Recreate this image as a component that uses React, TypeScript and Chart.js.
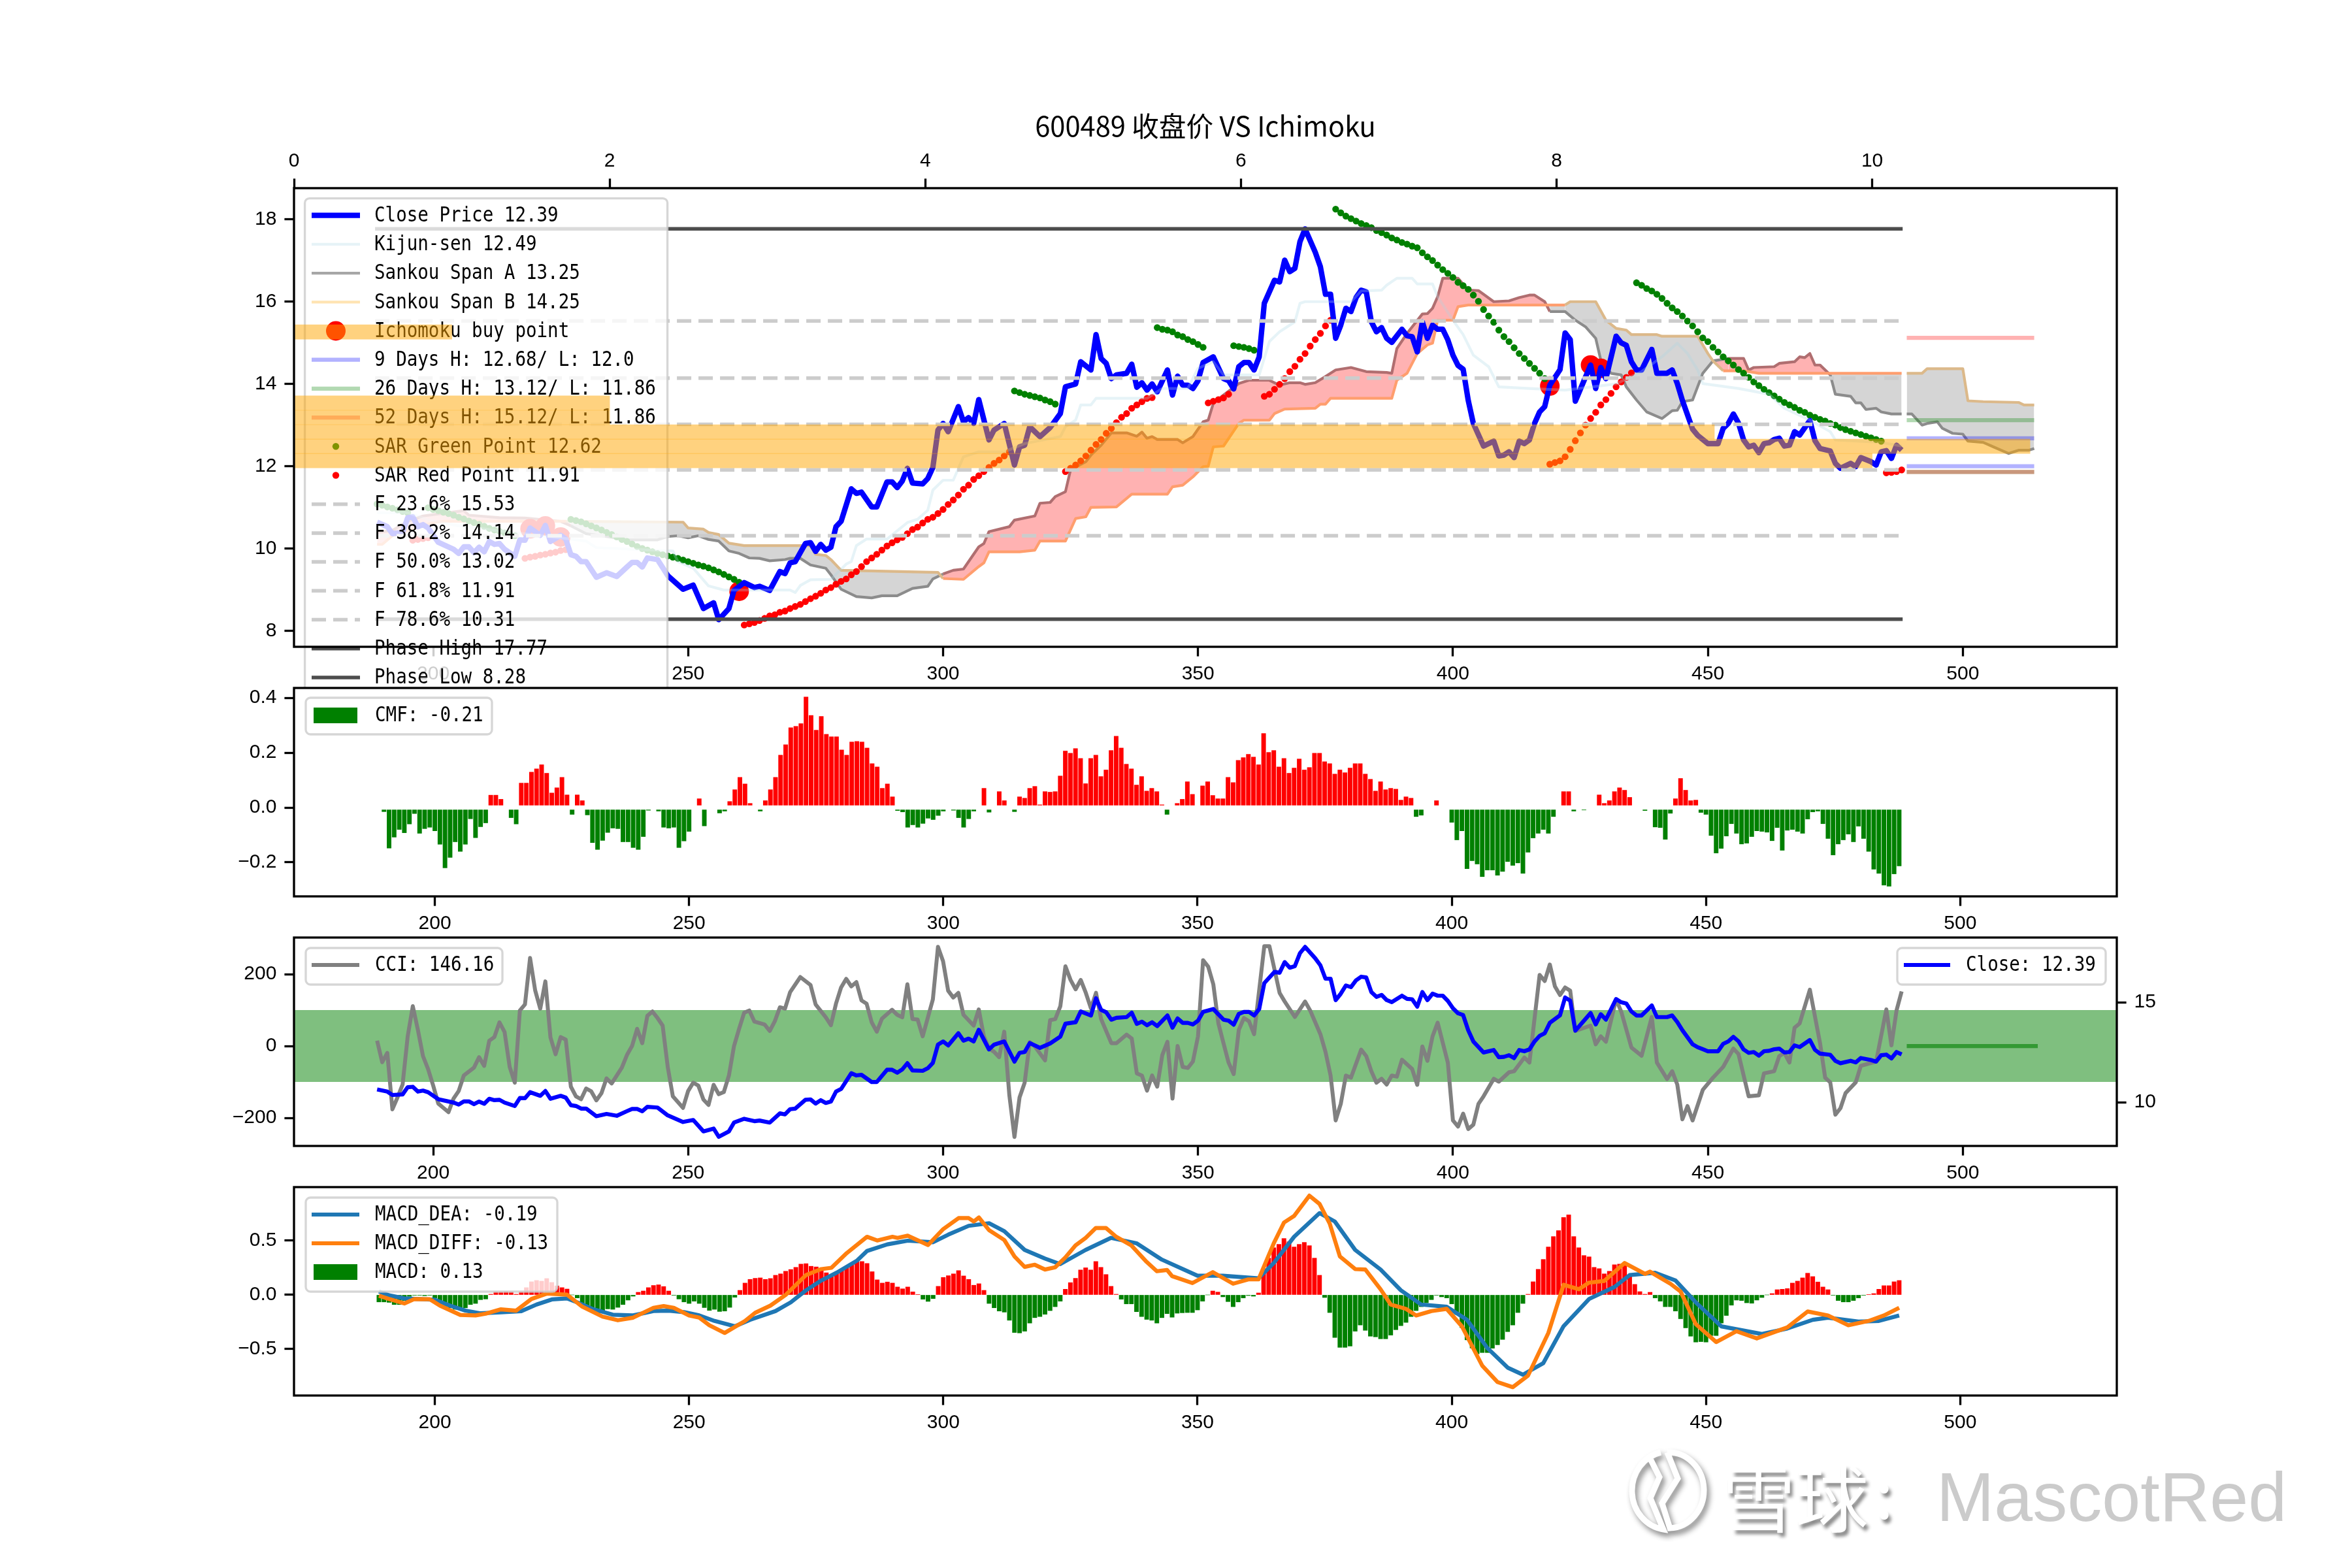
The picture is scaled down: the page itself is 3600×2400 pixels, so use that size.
import { useEffect, useRef } from 'react';
import { Chart, registerables } from 'chart.js';

Chart.register(...registerables);

// ---- values ----
const closeSeries = [[189,10.64],[191,10.53],[192,10.36],[194,10.39],[195,10.75],[196,10.77],[197,10.53],[198,10.58],[199,10.5],[201,10.15],[204,9.98],[205,9.88],[206,10.04],[207,10.04],[208,9.9],[209,10.03],[210,9.92],[211,10.17],[212,10.1],[213,10.12],[214,9.98],[216,9.81],[217,10.21],[218,10.2],[219,10.5],[221,10.32],[222,10.56],[223,10.17],[225,10.32],[226,10.23],[227,9.85],[228,9.81],[229,9.68],[230,9.68],[232,9.3],[234,9.41],[236,9.32],[238,9.55],[239,9.66],[240,9.66],[241,9.55],[242,9.77],[244,9.73],[246,9.34],[249,9.01],[251,9.11],[253,8.54],[255,8.68],[256,8.27],[258,8.54],[259,8.98],[261,9.17],[263,9.05],[264,9.08],[266,8.98],[268,9.44],[269,9.39],[270,9.65],[271,9.68],[273,10.12],[274,10.14],[275,9.93],[276,10.1],[277,9.96],[278,10.03],[279,10.53],[280,10.66],[282,11.45],[283,11.34],[284,11.37],[286,11.01],[287,11.01],[289,11.62],[290,11.62],[291,11.48],[292,11.64],[293,11.95],[294,11.59],[296,11.57],[297,11.7],[298,11.97],[299,12.88],[300,13.04],[301,12.84],[303,13.45],[304,13.08],[305,13.18],[306,13.04],[307,13.62],[309,12.64],[310,12.88],[312,13.04],[314,12.03],[315,12.47],[316,12.51],[317,12.96],[319,12.72],[321,12.94],[323,13.28],[324,13.93],[326,14],[327,14.54],[329,14.34],[330,15.2],[331,14.62],[332,14.5],[333,14.13],[334,14.22],[336,14.26],[337,14.48],[338,13.92],[339,14.03],[340,13.85],[341,14],[342,13.81],[344,14.34],[345,13.73],[346,14.19],[347,13.97],[348,13.97],[349,13.89],[350,14.08],[351,14.52],[353,14.66],[355,14.13],[356,14.08],[357,13.88],[358,14.42],[359,14.52],[360,14.52],[361,14.34],[362,14.66],[363,15.96],[365,16.52],[366,16.48],[367,17.01],[368,16.73],[369,16.81],[370,17.46],[371,17.77],[373,17.2],[374,16.85],[375,16.18],[376,16.18],[377,15.11],[378,15.43],[379,15.84],[380,15.76],[381,16.1],[382,16.28],[383,16.24],[384,15.51],[385,15.27],[386,15.37],[387,15.11],[388,15.01],[390,15.33],[391,15.17],[392,15.15],[393,14.78],[394,15.51],[395,15.11],[396,15.43],[397,15.33],[398,15.33],[399,15.07],[400,14.7],[401,14.45],[402,14.36],[403,13.6],[404,13.04],[406,12.49],[408,12.61],[409,12.25],[410,12.27],[411,12.35],[412,12.21],[413,12.61],[414,12.55],[415,12.64],[416,13.04],[417,13.32],[418,13.45],[419,13.97],[421,14.35],[422,15.24],[423,15.08],[424,13.58],[427,14.46],[428,13.89],[429,14.4],[430,14.13],[432,15.16],[433,15],[434,14.94],[435,14.54],[436,14.34],[437,14.34],[439,14.84],[440,14.26],[442,14.26],[443,14.34],[444,14.01],[445,13.6],[447,12.9],[448,12.75],[449,12.65],[450,12.55],[452,12.55],[453,12.92],[454,13.04],[455,13.27],[456,13.05],[457,12.64],[458,12.47],[459,12.51],[460,12.33],[461,12.55],[462,12.57],[463,12.65],[464,12.68],[465,12.49],[466,12.51],[467,12.84],[468,12.76],[470,13.11],[471,12.62],[472,12.43],[474,12.37],[475,12.07],[476,11.95],[478,12.07],[479,11.99],[480,12.21],[482,12.11],[483,12.03],[484,12.35],[485,12.38],[486,12.19],[487,12.51],[488,12.39]];

const kijunSeries = [[189,10.87],[195,10.87],[199,10.7],[205,10.55],[215,10.4],[227,10.23],[230,10.18],[232,10.02],[247,9.94],[248,9.68],[251,9.52],[254,9.09],[257,8.99],[270,8.99],[271,8.93],[272,9.1],[274,9.24],[278,9.25],[281,9.62],[282,9.68],[283,10.07],[285,10.23],[289,10.23],[293,10.63],[295,10.71],[297,10.93],[298,11.42],[300,11.66],[302,11.66],[304,12.23],[307,12.35],[312,12.35],[316,12.55],[323,12.72],[324,12.96],[326,13.12],[327,13.49],[329,13.49],[330,13.65],[340,13.65],[343,13.89],[348,13.89],[350,14.38],[353,14.54],[355,14.22],[362,14.22],[364,15.03],[366,15.27],[369,15.51],[370,15.96],[371,16],[380,16],[382,16.26],[386,16.28],[387,16.4],[389,16.57],[392,16.57],[393,16.43],[396,16.43],[397,16.12],[400,15.55],[402,15.2],[404,14.7],[407,14.42],[409,13.93],[415,13.89],[422,13.85],[432,14],[437,14.3],[441,14.66],[444,14.99],[446,14.74],[448,14.34],[449,14.01],[456,13.89],[462,13.75],[465,13.41],[470,13.12],[474,12.84],[475,12.64],[484,12.58],[488,12.49]];

const spanASeries = [[189,10.39],[192,10.44],[195,10.66],[198,10.79],[201,10.84],[206,10.92],[207,10.81],[213,10.75],[218,10.74],[225,10.66],[227,10.55],[230,10.36],[234,10.29],[238,10.21],[244,10.21],[246,10.29],[248,10.31],[250,10.26],[252,10.31],[254,10.22],[256,10.18],[258,9.94],[260,9.88],[262,9.77],[264,9.76],[266,9.7],[269,9.73],[270,9.76],[272,9.76],[274,9.6],[277,9.52],[278,9.36],[280,9.01],[283,8.83],[286,8.8],[288,8.85],[291,8.85],[294,9.03],[297,9.08],[298,9.26],[300,9.38],[302,9.47],[304,9.5],[307,10.04],[308,10.12],[309,10.41],[313,10.53],[314,10.69],[318,10.79],[319,11.1],[321,11.12],[322,11.26],[324,11.38],[325,11.91],[328,12.11],[329,12.27],[331,12.51],[333,12.81],[336,12.81],[338,12.73],[339,12.83],[340,12.68],[341,12.72],[342,12.65],[346,12.65],[347,12.57],[349,12.72],[351,13.08],[352,13.12],[353,13.53],[355,13.73],[358,14.01],[360,14.09],[364,14.09],[366,13.97],[368,14.03],[370,14.03],[371,13.99],[373,14.03],[375,14.18],[377,14.34],[380,14.4],[383,14.3],[387,14.28],[388,14.26],[389,14.86],[391,15.23],[394,15.7],[395,15.71],[396,15.84],[397,16.12],[398,16.57],[401,16.57],[403,16.28],[405,16.27],[408,16],[411,16.02],[413,16.1],[415,16.16],[416,16.16],[418,16],[419,15.76],[422,15.76],[424,15.55],[426,15.39],[428,15.11],[429,14.58],[431,14.26],[433,14.22],[434,13.93],[436,13.61],[438,13.32],[441,13.16],[443,13.35],[444,13.36],[445,13.57],[447,13.61],[449,14.26],[451,14.56],[454,14.62],[457,14.62],[458,14.34],[459,14.4],[463,14.42],[464,14.5],[467,14.54],[468,14.66],[469,14.64],[470,14.74],[471,14.46],[472,14.46],[474,14.22],[475,13.75],[478,13.7],[479,13.54],[480,13.54],[481,13.38],[483,13.41],[484,13.32],[486,13.27],[488,13.27],[488.5,null],[489,13.27],[490,13.27],[492,13],[493,13.04],[495,13.08],[496,12.92],[498,12.8],[500,12.78],[501,12.61],[504,12.58],[506,12.47],[509,12.31],[511,12.39],[513,12.39],[514,12.43]];

const spanBSeries = [[189,10.1],[190,10.1],[192,10.31],[200,10.63],[202,10.66],[226,10.66],[249,10.64],[250,10.5],[253,10.47],[254,10.39],[256,10.34],[258,10.13],[261,10.07],[274,10.07],[275,9.86],[277,9.83],[278,9.73],[280,9.47],[299,9.42],[300,9.27],[304,9.25],[307,9.56],[308,9.65],[309,9.92],[315,9.92],[318,9.96],[319,10.18],[324,10.18],[326,10.73],[328,10.77],[329,11],[334,11.01],[337,11.32],[344,11.32],[345,11.5],[347,11.54],[349,11.74],[351,11.99],[352,12],[353,12.47],[355,12.49],[358,13.04],[359,13.12],[364,13.12],[365,13.28],[367,13.39],[373,13.41],[374,13.51],[375,13.51],[376,13.65],[388,13.65],[389,14.09],[391,14.26],[393,14.74],[395,14.95],[396,14.99],[397,15.55],[400,15.55],[401,15.88],[403,15.92],[422,15.92],[423,16],[428,16],[430,15.55],[432,15.35],[434,15.31],[435,15.2],[440,15.2],[441,15.16],[448,15.16],[450,14.74],[451,14.56],[453,14.32],[457,14.32],[460,14.26],[473,14.26],[488,14.26],[488.5,null],[489,14.26],[492,14.26],[493,14.37],[500,14.37],[501,13.59],[504,13.57],[511,13.55],[512,13.49],[514,13.49]];

const cloudRedRanges = [[189,226],[300,418.4],[451.3,473.4]];

const buyPoints = [[219,10.48],[222,10.55],[225,10.28],[260,8.96],[419,13.95],[427,14.46],[429,14.38]];

// SAR dots, one value per day from each run's first day
const sarRedRuns = [
  [196,[10.2,10.22,10.24,10.26]],
  [218,[9.76,9.79,9.81,9.84,9.86,9.89,9.91,9.95,9.97]],
  [261,[8.14,8.17,8.2,8.25,8.3,8.36,8.39,8.45,8.48,8.54,8.59,8.64,8.71,8.78,8.84,8.91,8.99,9.05,9.13,9.2,9.26,9.36,9.44,9.56,9.68,9.77,9.86,9.96,10.06,10.14,10.21,10.27,10.36,10.46,10.52,10.62,10.71,10.76,10.85,10.95,11.07,11.18,11.3,11.44,11.54,11.68,11.77,11.87,11.97,12.07,12.15,12.25,12.35]],
  [324,[11.87,11.95,12.03,12.13,12.25,12.39,12.53,12.65,12.8,12.92,13.06,13.19,13.28,13.41,13.49,13.57,13.65,13.67]],
  [352,[13.54,13.58,13.62,13.66,13.75]],
  [363,[13.7,13.75,13.87,13.99,14.13,14.3,14.43,14.6,14.74,14.92,15.08,15.23,15.41,15.55]],
  [419,[12.05,12.09,12.13,12.23,12.41,12.62,12.81,13,13.16,13.31,13.49,13.62,13.77,13.93,14.05,14.16,14.27]],
  [485,[11.84,11.85,11.87,11.91]],
];
const sarGreenRuns = [
  [189,[11.08,11.05,11.01,10.98,10.94,10.9,10.87]],
  [199,[10.99,10.95,10.92,10.88,10.85,10.81,10.76,10.72,10.67,10.63,10.59,10.54,10.49,10.45,10.42,10.38,10.35,10.31]],
  [227,[10.71,10.68,10.65,10.6,10.55,10.5,10.45,10.39,10.34,10.28,10.22,10.17,10.11,10.05,10,9.96,9.92,9.88,9.85,9.82,9.79,9.76,9.72,9.68,9.64,9.6,9.57,9.53,9.48,9.43,9.37,9.31,9.25,9.18]],
  [314,[13.83,13.79,13.75,13.72,13.69,13.66,13.61,13.57,13.51]],
  [342,[15.37,15.33,15.31,15.27,15.19,15.15,15.08,15.03,14.96,14.89]],
  [357,[14.93,14.91,14.89,14.86,14.82]],
  [377,[18.25,18.16,18.08,18.02,17.96,17.9,17.85,17.8,17.73,17.68,17.62,17.55,17.5,17.44,17.4,17.35,17.31,17.19,17.09,17,16.89,16.78,16.69,16.59,16.47,16.39,16.3,16.16,16.01,15.81,15.65,15.5,15.31,15.15,15.03,14.88,14.74,14.62,14.5,14.38,14.26,14.13]],
  [436,[16.46,16.4,16.32,16.26,16.18,16.08,15.96,15.85,15.76,15.65,15.53,15.41,15.27,15.12,15.03,14.89,14.78,14.66,14.56,14.46,14.35,14.26,14.16,14.05,13.96,13.87,13.79,13.71,13.63,13.55,13.49,13.43,13.36,13.31,13.24,13.19,13.14,13.1,13.04,13,12.94,12.89,12.85,12.81,12.77,12.73,12.69,12.65,12.61]],
];

const fibLevels = [15.53, 14.14, 13.02, 11.91, 10.31];
const phaseLevels = [17.77, 8.28];
const nineDayLevels = [12.68, 12.0];
const twentySixDayLevels = [13.12, 11.86];
const fiftyTwoDayLevels = [15.12, 11.86];

// horizontal histogram on the top axis
const profilePrices = [15.265, 13.535, 13.185, 12.835, 12.485, 12.135];
const profileCounts = [1, 2, 2, 9, 11, 10];

const cmfStart = 190;
const cmfValues = [
  -.015,-.148,-.108,-.08,-.092,-.06,-.022,-.094,-.077,-.072,
  -.085,-.134,-.22,-.182,-.125,-.16,-.134,-.041,-.11,-.07,
  -.056,.045,.045,.03,0,-.037,-.06,.089,.089,.129,
  .141,.156,.125,.053,.072,.11,.046,-.025,.046,.025,
  -.027,-.128,-.153,-.12,-.091,-.075,-.077,-.125,-.125,-.146,
  -.153,-.106,-.01,0,-.013,-.072,-.075,-.072,-.146,-.122,
  -.087,0,.032,-.067,0,0,-.02,-.013,.022,.065,
  .11,.086,.015,-.004,-.013,.025,.065,.11,.191,.229,
  .291,.296,.306,.403,.336,.282,.332,.267,.258,.258,
  .21,.191,.239,.241,.239,.217,.16,.148,.07,.086,
  .039,-.011,-.016,-.072,-.063,-.072,-.058,-.039,-.044,-.029,
  -.013,0,-.01,-.037,-.072,-.041,-.013,0,.07,-.017,
  0,.058,.025,0,-.015,.039,.034,.07,.077,.01,
  .058,.056,.058,.115,.206,.198,.215,.179,.087,.179,
  .191,.113,.137,.208,.26,.217,.158,.141,.082,.113,
  .06,.07,.058,.01,-.025,0,.015,.03,.094,.048,
  0,.079,.094,.044,.032,.032,.11,.091,.172,.182,
  .194,.184,.156,.27,.201,.208,.148,.179,.125,.144,
  .177,.137,.146,.198,.198,.167,.16,.122,.137,.127,
  .144,.16,.16,.122,.103,.06,.094,.065,.07,.067,
  .027,.039,.034,-.033,-.028,0,0,.025,0,0,
  -.054,-.118,-.085,-.223,-.194,-.206,-.252,-.228,-.228,-.247,
  -.233,-.197,-.211,-.202,-.24,-.163,-.111,-.094,-.08,-.094,
  -.033,0,.058,.058,-.013,0,-.009,0,0,.046,
  .015,.025,.058,.072,.063,.037,0,0,-.011,0,
  -.071,-.073,-.116,-.021,.032,.106,.063,.025,.027,-.018,
  -.025,-.102,-.166,-.149,-.104,-.059,-.094,-.133,-.13,-.106,
  -.085,-.087,-.09,-.121,-.073,-.156,-.083,-.08,-.087,-.094,
  -.042,-.016,-.013,-.059,-.113,-.173,-.133,-.118,-.097,-.125,
  -.068,-.113,-.16,-.225,-.24,-.283,-.287,-.242,-.213,
];

const cciSeries = [[189,15],[190,-45],[191,-19],[192,-176],[193,-143],[194,-107],[195,27],[196,111],[197,45],[198,-28],[199,-64],[200,-110],[201,-160],[202,-172],[203,-184],[204,-146],[205,-125],[206,-82],[208,-60],[209,-31],[210,-55],[211,15],[212,25],[213,66],[214,39],[215,-58],[216,-102],[217,99],[218,116],[219,245],[220,155],[221,104],[222,180],[223,24],[224,-23],[225,25],[226,18],[227,-113],[228,-140],[229,-148],[230,-118],[231,-126],[232,-151],[233,-131],[234,-90],[235,-104],[237,-60],[238,-25],[239,0],[240,48],[241,8],[242,84],[243,96],[244,78],[245,57],[246,-58],[247,-140],[249,-172],[250,-125],[251,-102],[252,-110],[253,-149],[254,-164],[255,-108],[256,-134],[257,-128],[258,-82],[259,0],[260,48],[261,93],[262,99],[263,68],[265,60],[266,42],[267,69],[268,108],[269,104],[270,150],[272,192],[274,170],[275,116],[277,80],[278,58],[279,118],[280,163],[281,187],[282,166],[283,178],[284,127],[285,118],[286,66],[287,40],[288,76],[290,101],[291,87],[292,80],[293,172],[294,75],[295,74],[296,27],[298,130],[299,276],[300,236],[301,154],[302,135],[303,148],[304,87],[306,57],[307,102],[308,27],[309,-7],[310,-16],[311,-31],[312,40],[313,-137],[314,-253],[315,-143],[316,-102],[317,11],[318,-1],[320,-40],[321,72],[322,75],[323,111],[324,222],[325,184],[326,158],[327,184],[328,148],[329,105],[330,148],[331,75],[333,8],[334,8],[336,32],[337,21],[338,-76],[339,-82],[340,-124],[341,-82],[342,-113],[343,-25],[344,12],[345,-146],[346,0],[347,-58],[348,-61],[349,-43],[350,27],[351,239],[352,221],[353,172],[354,63],[355,8],[356,-46],[357,-78],[358,45],[359,78],[360,69],[361,33],[363,278],[364,278],[366,148],[367,124],[369,81],[371,124],[372,99],[374,33],[375,-16],[376,-82],[377,-207],[378,-161],[379,-82],[380,-88],[382,-10],[383,-28],[384,-70],[385,-102],[386,-91],[387,-107],[388,-82],[389,-85],[390,-38],[392,-64],[393,-108],[394,-1],[395,-41],[396,27],[397,65],[399,-46],[400,-207],[401,-224],[402,-188],[403,-231],[404,-219],[405,-161],[406,-140],[408,-91],[409,-99],[411,-73],[412,-70],[414,-32],[415,-46],[417,198],[418,181],[419,227],[420,166],[421,142],[422,163],[423,154],[424,42],[427,57],[428,5],[429,27],[430,12],[432,130],[433,96],[435,-4],[437,-27],[439,81],[440,-46],[442,-92],[443,-70],[444,-107],[445,-204],[446,-167],[447,-207],[449,-122],[451,-88],[453,-58],[455,-7],[456,-22],[458,-140],[460,-137],[461,-76],[463,-70],[464,-28],[465,-19],[466,-46],[467,51],[468,63],[470,157],[472,8],[473,-88],[474,-101],[475,-191],[476,-173],[477,-131],[479,-101],[480,-55],[483,-43],[485,102],[486,2],[487,99],[488,152]];
const cciBand = [100, -100];
const cciFutureZero = [[489,0],[514.7,0]];

const macdStart = 189;
const macdValues = [
  -.065,-.065,-.069,-.089,-.089,-.052,-.014,-.004,-.004,-.008,-.004,
  -.028,-.058,-.105,-.119,-.133,-.133,-.119,-.089,-.079,-.044,
  -.038,.006,.026,.026,.028,.026,.006,.026,.067,.121,
  .133,.127,.151,.115,.083,.067,.054,0,-.028,-.099,
  -.129,-.143,-.179,-.153,-.129,-.133,-.115,-.089,-.048,-.012,
  .024,.036,.067,.087,.093,.077,.036,-.004,-.038,-.065,
  -.079,-.058,-.079,-.117,-.143,-.133,-.153,-.149,-.115,-.022,
  .042,.109,.143,.153,.157,.143,.151,.181,.194,.218,
  .234,.254,.284,.288,.264,.258,.234,.204,.183,.204,
  .234,.254,.284,.308,.308,.29,.214,.139,.109,.119,
  .109,.073,.056,.073,.028,.002,-.04,-.06,-.034,.079,
  .161,.177,.194,.224,.175,.143,.089,.103,.042,-.079,
  -.119,-.149,-.159,-.234,-.347,-.351,-.335,-.26,-.21,-.2,
  -.179,-.145,-.109,-.058,.052,.113,.153,.23,.25,.23,
  .308,.254,.188,.079,.006,-.04,-.083,-.083,-.155,-.2,
  -.226,-.234,-.26,-.21,-.173,-.206,-.169,-.165,-.163,-.163,
  -.139,-.058,0,.036,.026,-.018,-.062,-.109,-.065,-.028,
  -.006,-.012,.018,.24,.339,.435,.466,.52,.49,.442,
  .466,.484,.454,.339,.181,-.024,-.163,-.393,-.484,-.484,
  -.472,-.335,-.278,-.327,-.381,-.387,-.405,-.405,-.371,-.321,
  -.284,-.254,-.2,-.145,-.109,-.073,-.044,-.002,-.018,-.028,
  -.083,-.181,-.302,-.415,-.49,-.544,-.532,-.532,-.492,-.46,
  -.411,-.339,-.278,-.163,-.079,.006,.121,.236,.327,.442,
  .538,.593,.714,.738,.538,.435,.363,.351,.254,.242,
  .194,.218,.278,.284,.274,.173,.097,.03,.006,.024,
  -.028,-.058,-.109,-.109,-.149,-.22,-.304,-.381,-.435,-.431,
  -.435,-.375,-.375,-.26,-.19,-.095,-.048,-.052,-.073,-.077,
  -.048,-.024,0,.012,.048,.052,.058,.109,.127,.157,
  .2,.169,.119,.073,.048,-.004,-.052,-.065,-.065,-.052,
  -.028,-.004,.004,.012,.052,.085,.085,.121,.133,
];

const deaSeries = [[189,.032],[191,-.004],[194,-.032],[197,-.038],[200,-.044],[203,-.099],[206,-.145],[209,-.17],[213,-.16],[217,-.15],[220,-.089],[223,-.042],[226,-.032],[228,-.069],[231,-.129],[235,-.183],[239,-.189],[243,-.149],[246,-.145],[249,-.159],[252,-.189],[255,-.24],[259,-.29],[262,-.23],[267,-.149],[270,-.069],[273,.042],[276,.133],[279,.204],[283,.315],[285,.405],[289,.466],[293,.5],[298,.486],[301,.556],[305,.637],[309,.661],[312,.587],[316,.415],[320,.335],[323,.284],[328,.415],[333,.526],[338,.476],[343,.325],[350,.177],[355,.177],[362,.153],[365,.294],[369,.536],[374,.754],[377,.677],[381,.415],[386,.234],[390,.042],[394,-.089],[399,-.109],[403,-.23],[407,-.49],[411,-.671],[414,-.736],[418,-.63],[422,-.288],[427,-.038],[432,.073],[435,.183],[440,.204],[444,.133],[448,-.069],[453,-.29],[461,-.361],[466,-.31],[471,-.23],[474,-.21],[480,-.246],[484,-.24],[488,-.19]];
const diffSeries = [[189,-.008],[191,-.038],[194,-.079],[196,-.038],[199,-.04],[201,-.099],[205,-.185],[208,-.189],[210,-.173],[213,-.133],[216,-.145],[219,-.038],[222,.012],[226,.002],[229,-.109],[233,-.2],[236,-.234],[239,-.21],[243,-.119],[245,-.103],[247,-.119],[250,-.19],[252,-.21],[254,-.28],[257,-.351],[261,-.24],[263,-.165],[266,-.099],[269,0],[273,.183],[276,.238],[278,.25],[281,.385],[285,.536],[287,.502],[290,.536],[291,.526],[293,.546],[297,.46],[300,.607],[303,.708],[305,.708],[306,.677],[307,.714],[309,.597],[312,.506],[314,.355],[316,.258],[318,.278],[320,.234],[322,.254],[324,.345],[326,.456],[328,.526],[330,.617],[332,.617],[334,.536],[337,.456],[340,.304],[342,.218],[344,.23],[345,.173],[349,.109],[353,.21],[357,.103],[360,.143],[362,.143],[365,.476],[367,.667],[369,.728],[372,.915],[374,.839],[376,.657],[378,.355],[381,.238],[383,.234],[386,.052],[388,-.089],[391,-.129],[393,-.19],[396,-.149],[399,-.129],[402,-.29],[406,-.653],[409,-.804],[412,-.851],[415,-.744],[419,-.351],[422,.093],[425,.052],[427,.113],[430,.129],[434,.294],[438,.194],[439,.214],[443,.103],[445,.032],[448,-.27],[452,-.435],[456,-.335],[460,-.401],[466,-.3],[470,-.153],[474,-.19],[478,-.28],[482,-.24],[485,-.19],[488,-.119]];

const topTicks = [0, 2, 4, 6, 8, 10];
const bottomTicks = [200, 250, 300, 350, 400, 450, 500];
const priceTicks = [8, 10, 12, 14, 16, 18];
const cmfTicks = [-0.2, 0, 0.2, 0.4];
const cciTicks = [-200, 0, 200];
const closeTicks = [10, 15];
const macdTicks = [-0.5, 0, 0.5];

const chartTitle = '600489 收盘价 VS Ichimoku';

const priceLegend = [
  { label: 'Close Price 12.39', kind: 'line', color: 'blue', width: 8.3 },
  { label: 'Kijun-sen 12.49', kind: 'line', color: 'rgba(173,216,230,0.3)', width: 4.2 },
  { label: 'Sankou Span A 13.25', kind: 'line', color: 'rgba(128,128,128,0.7)', width: 4.2 },
  { label: 'Sankou Span B 14.25', kind: 'line', color: 'rgba(255,165,0,0.3)', width: 4.2 },
  { label: 'Ichomoku buy point', kind: 'dot', color: 'red', radius: 15 },
  { label: '9 Days H: 12.68/ L: 12.0', kind: 'line', color: 'rgba(0,0,255,0.3)', width: 6.2 },
  { label: '26 Days H: 13.12/ L: 11.86', kind: 'line', color: 'rgba(0,128,0,0.3)', width: 6.2 },
  { label: '52 Days H: 15.12/ L: 11.86', kind: 'line', color: 'rgba(255,0,0,0.3)', width: 6.2 },
  { label: 'SAR Green Point 12.62', kind: 'dot', color: 'green', radius: 5.2 },
  { label: 'SAR Red Point 11.91', kind: 'dot', color: 'red', radius: 5.2 },
  { label: 'F 23.6% 15.53', kind: 'dash', color: '#cccccc', width: 5.5 },
  { label: 'F 38.2% 14.14', kind: 'dash', color: '#cccccc', width: 5.5 },
  { label: 'F 50.0% 13.02', kind: 'dash', color: '#cccccc', width: 5.5 },
  { label: 'F 61.8% 11.91', kind: 'dash', color: '#cccccc', width: 5.5 },
  { label: 'F 78.6% 10.31', kind: 'dash', color: '#cccccc', width: 5.5 },
  { label: 'Phase High 17.77', kind: 'line', color: '#4d4d4d', width: 5.5 },
  { label: 'Phase Low 8.28', kind: 'line', color: '#4d4d4d', width: 5.5 },
];

// ---- helpers ----
const pts = (pairs: (number | null)[][]) => pairs.map(([x, y]) => ({ x, y }));
const runs = (list: any[]) => list.flatMap(([start, vals]) => vals.map((y: number, i: number) => ({ x: start + i, y })));
const span = (x0: number, x1: number, v: number) => [{ x: x0, y: v }, { x: x1, y: v }];
const inRedCloud = (x: number) => cloudRedRanges.some(([a, b]) => x >= a && x < b);

const FONT_TICK = { family: "'Liberation Sans', Arial, sans-serif", size: 30 };

function line(data: any[], color: string, width: number, extra: any = {}) {
  return { type: 'line', data, borderColor: color, borderWidth: width, pointRadius: 0, tension: 0, fill: false, borderJoinStyle: 'round', ...extra };
}

function dots(data: any[], color: string, radius: number) {
  return { type: 'line', data, showLine: false, pointRadius: radius, pointBackgroundColor: color, pointBorderWidth: 0, borderColor: color };
}

function signedBars(start: number, values: number[]) {
  return {
    type: 'bar',
    data: values.map((y, i) => ({ x: start + i, y })),
    backgroundColor: values.map((v) => (v > 0 ? 'red' : 'green')),
    barThickness: 6.3,
    borderWidth: 0,
  };
}

function axis(position: string, min: number, max: number, ticks: number[], size: number, decimals = 0) {
  const horizontal = position === 'top' || position === 'bottom';
  return {
    type: 'linear',
    position,
    min,
    max,
    offset: false,
    afterBuildTicks: (s: any) => { s.ticks = ticks.map((value) => ({ value })); },
    afterFit: (s: any) => {
      if (horizontal) s.height = size; else s.width = size;
      // keep the plot box exactly where the figure has it
      s.paddingTop = 0;
      s.paddingBottom = 0;
      s.paddingLeft = 0;
      s.paddingRight = 0;
    },
    grid: { display: true, offset: false, drawOnChartArea: false, drawTicks: true, tickLength: 14.6, tickWidth: 3.3, tickColor: '#000' },
    border: { display: false },
    ticks: {
      font: FONT_TICK,
      color: '#000',
      padding: horizontal ? 9 : 12,
      autoSkip: false,
      maxRotation: 0,
      callback: (v: number) => v.toFixed(decimals).replace('-', '\u2212'),
    },
  };
}

function drawLegendBox(ctx: any, box: any) {
  ctx.save();
  ctx.beginPath();
  ctx.roundRect(box.x, box.y, box.w, box.h, 7);
  ctx.fillStyle = 'rgba(255,255,255,0.8)';
  ctx.fill();
  ctx.lineWidth = 3.3;
  ctx.strokeStyle = 'rgba(204,204,204,0.8)';
  ctx.stroke();
  box.rows.forEach((row: any, i: number) => {
    const y = box.firstY + i * box.step;
    const x0 = box.handleX;
    const x1 = box.handleX + box.handleW;
    if (row.kind === 'dot') {
      ctx.beginPath();
      ctx.arc((x0 + x1) / 2, y, row.radius, 0, Math.PI * 2);
      ctx.fillStyle = row.color;
      ctx.fill();
    } else if (row.kind === 'patch') {
      ctx.fillStyle = row.color;
      ctx.fillRect(x0 + 3, y - 12, box.handleW - 6, 24);
    } else {
      ctx.beginPath();
      ctx.setLineDash(row.kind === 'dash' ? [22, 11] : []);
      ctx.moveTo(x0, y);
      ctx.lineTo(x1, y);
      ctx.lineWidth = row.width;
      ctx.strokeStyle = row.color;
      ctx.stroke();
      ctx.setLineDash([]);
    }
    // narrow, fixed pitch look of the original legend font
    ctx.save();
    ctx.translate(box.textX, y);
    ctx.scale(0.86, 1);
    ctx.font = "32px 'DejaVu Sans Mono', monospace";
    ctx.fillStyle = '#000';
    ctx.textBaseline = 'middle';
    ctx.textAlign = 'left';
    ctx.fillText(row.label, 0, 1);
    ctx.restore();
  });
  ctx.restore();
}

const panelPlugin = {
  id: 'panel',
  beforeDraw(chart: any) {
    const { ctx, chartArea: a } = chart;
    ctx.save();
    ctx.fillStyle = '#fff';
    ctx.fillRect(a.left, a.top, a.right - a.left, a.bottom - a.top);
    ctx.restore();
  },
  beforeDatasetDraw(chart: any, args: any) {
    const p = chart.config.options.panel;
    if (p.legendAt === args.index) p.legends.forEach((b: any) => drawLegendBox(chart.ctx, { ...b, y: b.y - p.top, firstY: b.firstY - p.top }));
  },
  afterDatasetsDraw(chart: any) {
    const { ctx, chartArea: a } = chart;
    const p = chart.config.options.panel;
    if (p.legendAt === undefined) p.legends.forEach((b: any) => drawLegendBox(ctx, { ...b, y: b.y - p.top, firstY: b.firstY - p.top }));
    ctx.save();
    ctx.lineWidth = 3.33;
    ctx.strokeStyle = '#000';
    ctx.strokeRect(a.left, a.top, a.right - a.left, a.bottom - a.top);
    if (p.title) {
      ctx.font = "41.67px 'Noto Sans CJK SC', sans-serif";
      ctx.fillStyle = '#000';
      ctx.textAlign = 'center';
      ctx.textBaseline = 'middle';
      ctx.fillText(p.title, (a.left + a.right) / 2, 193);
    }
    ctx.restore();
  },
};

function makeChart(canvas: HTMLCanvasElement, cfg: any) {
  const n = cfg.datasets.length;
  return new Chart(canvas, {
    type: 'line',
    data: { datasets: cfg.datasets.map((d: any, i: number) => ({ order: n - i, ...d })) },
    options: {
      responsive: false,
      animation: false,
      devicePixelRatio: 1,
      events: [],
      layout: { padding: { top: cfg.padTop, right: cfg.padRight, left: 0, bottom: 0 } },
      plugins: { legend: { display: false }, tooltip: { enabled: false }, title: { display: false } },
      scales: cfg.scales,
      panel: { legends: cfg.legends, legendAt: cfg.legendAt, top: cfg.top, title: cfg.title },
    } as any,
    plugins: [panelPlugin],
  } as any);
}

const CANVASES = [
  { top: 0, height: 1080 },
  { top: 1043, height: 391 },
  { top: 1425, height: 391 },
  { top: 1807, height: 391 },
];

function priceChart(canvas: HTMLCanvasElement) {
  const datasets: any[] = [
    line(pts(spanASeries), '#8c8c8c', 4.2, {
      fill: { target: '+1', above: 'rgba(255,0,0,0.3)', below: 'rgba(128,128,128,0.33)' },
      segment: { borderColor: (c: any) => (inRedCloud(c.p0.parsed.x) ? '#b06e70' : '#8c8c8c') },
    }),
    line(pts(spanBSeries), '#dcb98a', 4.2, {
      segment: { borderColor: (c: any) => (inRedCloud(c.p0.parsed.x) ? '#ff9e6e' : '#dcb98a') },
    }),
    dots(pts(buyPoints), 'red', 15),
    dots(runs(sarGreenRuns), 'green', 5.2),
    dots(runs(sarRedRuns), 'red', 5.2),
    line(pts(closeSeries), 'blue', 8.3),
    line(pts(kijunSeries), 'rgba(173,216,230,0.3)', 4.2),
    ...nineDayLevels.map((v) => line(span(489, 514, v), 'rgba(0,0,255,0.3)', 6.2)),
    ...twentySixDayLevels.map((v) => line(span(489, 514, v), 'rgba(0,128,0,0.3)', 6.2)),
    ...fiftyTwoDayLevels.map((v) => line(span(489, 514, v), 'rgba(255,0,0,0.3)', 6.2)),
    ...fibLevels.map((v) => line(span(188.6, 488, v), '#cccccc', 5.5, { borderDash: [22, 11] })),
    ...phaseLevels.map((v) => line(span(188.6, 488.2, v), '#4d4d4d', 5.5)),
  ];
  // the twin axis histogram sits above the legend
  datasets.push({
    type: 'bar',
    indexAxis: 'y',
    xAxisID: 'xTop',
    yAxisID: 'y',
    data: profilePrices.map((y, i) => ({ x: profileCounts[i], y })),
    backgroundColor: 'rgba(255,165,0,0.5)',
    grouped: false,
    barPercentage: 1,
    categoryPercentage: 1,
    borderWidth: 0,
    order: -1,
  });
  return makeChart(canvas, {
    datasets,
    top: 0,
    padTop: 0,
    padRight: 360,
    title: chartTitle,
    legendAt: datasets.length - 1,
    legends: [{ x: 466.6, y: 303.6, w: 555, h: 760, rows: priceLegend, firstY: 329.7, step: 44.2, handleX: 477, handleW: 74, textX: 573 }],
    scales: {
      x: axis('bottom', 172.7, 530.2, bottomTicks, 90),
      xTop: axis('top', 0, 11.55, topTicks, 288),
      y: axis('left', 7.61, 18.76, priceTicks, 450),
    },
  });
}

function cmfChart(canvas: HTMLCanvasElement) {
  return makeChart(canvas, {
    datasets: [signedBars(cmfStart, cmfValues), line(span(187, 490, 0), '#fff', 6.3)],
    top: 1043,
    padTop: 10,
    padRight: 360,
    legends: [{ x: 468, y: 1068, w: 285, h: 56, rows: [{ label: 'CMF: -0.21', kind: 'patch', color: 'green' }], firstY: 1095, step: 44, handleX: 477, handleW: 73, textX: 574 }],
    scales: {
      x: axis('bottom', 172.3, 530.8, bottomTicks, 62),
      y: axis('left', -0.324, 0.436, cmfTicks, 450, 1),
    },
  });
}

function cciChart(canvas: HTMLCanvasElement) {
  return makeChart(canvas, {
    datasets: [
      line(span(172.7, 530.2, cciBand[0]), 'rgba(0,0,0,0)', 0, { fill: { target: '+1', above: 'rgba(0,128,0,0.5)', below: 'rgba(0,128,0,0.5)' } }),
      line(span(172.7, 530.2, cciBand[1]), 'rgba(0,0,0,0)', 0),
      line(pts(cciSeries), 'gray', 6),
      line(pts(cciFutureZero), 'rgba(0,128,0,0.6)', 6.2),
      line(pts(closeSeries), 'blue', 6.2, { yAxisID: 'y2' }),
    ],
    top: 1425,
    padTop: 10,
    padRight: 0,
    legends: [
      { x: 468, y: 1451, w: 301, h: 56, rows: [{ label: 'CCI: 146.16', kind: 'line', color: 'gray', width: 6.2 }], firstY: 1477, step: 44, handleX: 477, handleW: 73, textX: 574 },
      { x: 2904, y: 1451, w: 319, h: 56, rows: [{ label: 'Close: 12.39', kind: 'line', color: 'blue', width: 6.2 }], firstY: 1477, step: 44, handleX: 2914, handleW: 71, textX: 3009 },
    ],
    scales: {
      x: axis('bottom', 172.7, 530.2, bottomTicks, 62),
      y: axis('left', -278, 302, cciTicks, 450),
      y2: axis('right', 7.81, 18.24, closeTicks, 360),
    },
  });
}

function macdChart(canvas: HTMLCanvasElement) {
  return makeChart(canvas, {
    datasets: [signedBars(macdStart, macdValues), line(pts(deaSeries), '#1f77b4', 6.2), line(pts(diffSeries), '#ff7f0e', 6.2)],
    top: 1807,
    padTop: 10,
    padRight: 360,
    legends: [{
      x: 468, y: 1833, w: 385, h: 144, firstY: 1859, step: 44, handleX: 477, handleW: 73, textX: 574,
      rows: [
        { label: 'MACD_DEA: -0.19', kind: 'line', color: '#1f77b4', width: 6.2 },
        { label: 'MACD_DIFF: -0.13', kind: 'line', color: '#ff7f0e', width: 6.2 },
        { label: 'MACD: 0.13', kind: 'patch', color: 'green' },
      ],
    }],
    scales: {
      x: axis('bottom', 172.3, 530.8, bottomTicks, 62),
      y: axis('left', -0.928, 0.994, macdTicks, 450, 1),
    },
  });
}

const BUILDERS = [priceChart, cmfChart, cciChart, macdChart];

function Watermark() {
  const shadow = { color: '#fff', textShadow: '4px 6px 5px #8a8a8a' };
  const base: any = { position: 'absolute', whiteSpace: 'nowrap', lineHeight: 1 };
  return (
    <>
      <svg style={{ position: 'absolute', left: 2484, top: 2217, filter: 'drop-shadow(4px 6px 4px #8a8a8a)' }} width="130" height="130" viewBox="0 0 130 130">
        <path d="M58 6 A56 60 0 0 0 62 124 L42 76 L56 44 L42 16" fill="none" stroke="#fff" strokeWidth="9" />
        <path d="M68 6 A54 58 0 0 1 72 122 L60 84 L84 46 L68 6" fill="none" stroke="#fff" strokeWidth="9" />
      </svg>
      <div style={{ ...base, ...shadow, left: 2636, top: 2232, fontSize: 112, fontFamily: "'Noto Sans CJK SC', sans-serif" }}>雪球</div>
      <div style={{ ...base, ...shadow, left: 2870, top: 2232, fontSize: 100, fontFamily: "'Noto Sans CJK SC', sans-serif" }}>:</div>
      <div style={{ ...base, left: 2964, top: 2238, fontSize: 106, color: '#cbcbcb', fontFamily: "'Liberation Sans', sans-serif" }}>MascotRed</div>
    </>
  );
}

export default function App() {
  const refs = useRef<(HTMLCanvasElement | null)[]>([]);

  useEffect(() => {
    const charts = BUILDERS.map((build, i) => build(refs.current[i] as HTMLCanvasElement));
    return () => charts.forEach((c) => c.destroy());
  }, []);

  return (
    <div style={{ position: 'absolute', left: 0, top: 0, width: 3600, height: 2400, background: '#fff', overflow: 'hidden' }}>
      {CANVASES.map((c, i) => (
        <canvas
          key={i}
          ref={(el) => { refs.current[i] = el; }}
          width={3600}
          height={c.height}
          style={{ position: 'absolute', left: 0, top: c.top, width: 3600, height: c.height, display: 'block' }}
        />
      ))}
      <Watermark />
    </div>
  );
}
